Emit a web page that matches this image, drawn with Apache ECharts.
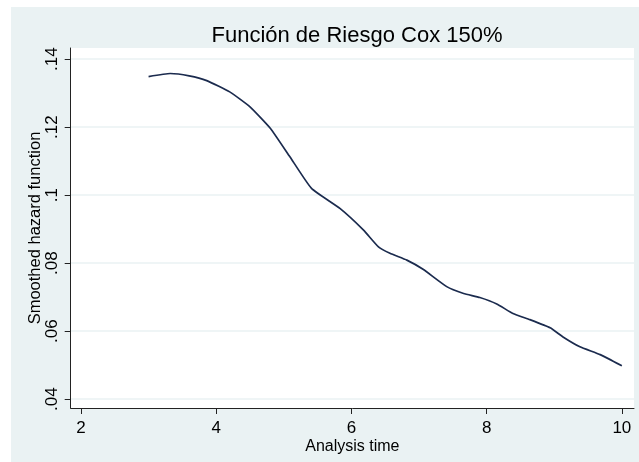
<!DOCTYPE html>
<html>
<head>
<meta charset="utf-8">
<script src="https://cdn.jsdelivr.net/npm/echarts@6/dist/echarts.min.js"></script>
<style>
html,body{margin:0;padding:0;background:#fff;}
#c{width:639px;height:462px;}
</style>
</head>
<body>
<div id="c"></div>
<script>
const titleText = "Función de Riesgo Cox 150%";
const xName = "Analysis time";
const yName = "Smoothed hazard function";
const xTicks = [2, 4, 6, 8, 10];
const yTicks = [0.04, 0.06, 0.08, 0.10, 0.12, 0.14];
const times  = [3.0, 3.32, 3.6, 3.86, 4.2, 4.5, 4.8, 5.09, 5.41, 5.83, 6.18, 6.4, 6.57, 6.82, 7.06, 7.41, 7.66, 7.9, 8.15, 8.39, 8.64, 8.94, 9.13, 9.38, 9.68, 10.0];
const hazard = [0.1349, 0.1358, 0.1351, 0.1337, 0.1304, 0.1260, 0.1197, 0.1113, 0.1020, 0.0961, 0.0897, 0.0848, 0.0829, 0.0809, 0.0782, 0.0731, 0.0711, 0.0699, 0.0680, 0.0652, 0.0634, 0.0610, 0.0583, 0.0554, 0.0531, 0.0498];

const chart = echarts.init(document.getElementById('c'), null, {renderer: 'canvas'});
const FONT = '"Liberation Sans", Arial, sans-serif';
const fmtY = v => parseFloat(v.toFixed(2)).toString().replace(/^0\./, '.');

chart.setOption({
  backgroundColor: '#ffffff',
  animation: false,
  textStyle: {fontFamily: FONT},
  graphic: [{
    type: 'rect', z: -10, silent: true,
    shape: {x: 11, y: 7, width: 628, height: 455},
    style: {fill: '#EAF2F3'}
  }],
  title: {
    text: titleText,
    left: 352, top: 20, textAlign: 'center',
    textStyle: {fontFamily: FONT, fontSize: 22, fontWeight: 'normal', color: '#000'}
  },
  grid: {
    left: 70.7, right: 5, top: 48, bottom: 54,
    show: true, backgroundColor: '#ffffff', borderWidth: 0
  },
  xAxis: {
    type: 'value', min: 1.848, max: 10.18,
    name: xName, nameLocation: 'middle', nameGap: 31, nameMoveOverlap: false,
    nameTextStyle: {fontFamily: FONT, fontSize: 16, color: '#000'},
    axisLine: {show: true, onZero: false, lineStyle: {color: '#222', width: 1}},
    axisTick: {show: true, customValues: xTicks, length: 6, lineStyle: {color: '#222'}},
    axisLabel: {customValues: xTicks, fontFamily: FONT, fontSize: 17, color: '#000', margin: 12,
      formatter: v => String(v)},
    splitLine: {show: false}
  },
  yAxis: {
    type: 'value', min: 0.0374, max: 0.1433,
    name: yName, nameLocation: 'middle', nameGap: 27, nameRotate: 90, nameMoveOverlap: false,
    nameTextStyle: {fontFamily: FONT, fontSize: 16.5, color: '#000'},
    axisLine: {show: true, onZero: false, lineStyle: {color: '#222', width: 1}},
    axisTick: {show: true, customValues: yTicks, length: 6, lineStyle: {color: '#222'}},
    axisLabel: {customValues: yTicks, rotate: 90, fontFamily: FONT, fontSize: 17, color: '#000', margin: 10,
      formatter: fmtY},
    splitLine: {show: true, lineStyle: {color: '#EAF2F3', width: 1.5}}
  },
  series: [{
    type: 'line',
    data: times.map((t, i) => [t, hazard[i]]),
    showSymbol: false,
    smooth: 0.15,
    lineStyle: {color: '#1b2b4e', width: 1.7},
    z: 5
  }]
});
</script>
</body>
</html>
